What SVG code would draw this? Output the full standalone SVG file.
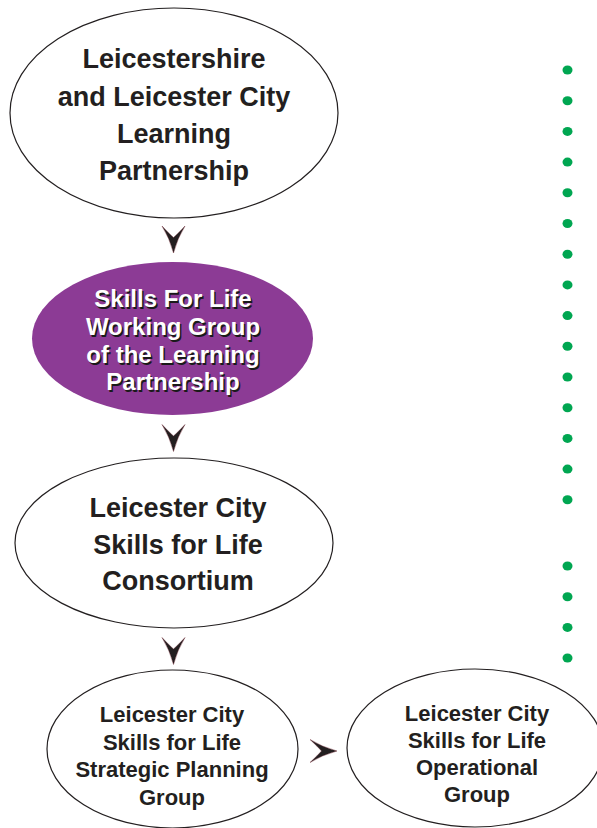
<svg xmlns="http://www.w3.org/2000/svg" width="597" height="828" viewBox="0 0 597 828">
<style>
.node ellipse{fill:#fff;stroke:#231f20;stroke-width:1.2}
#n2 ellipse{fill:#8c3b95;stroke:none}
text{font-family:"Liberation Sans",Arial,sans-serif;font-weight:bold;text-anchor:middle;fill:#231f20}
.t1{font-size:27px}
.t2{font-size:24px;fill:#fff}
.t2s{font-size:24px;fill:#1a1a1a}
.t4{font-size:22px}
.t5{font-size:22px}
.arrow{fill:#231f20;stroke:#6b1f2a;stroke-width:0.4}
.dot{fill:#00a651}
</style>
<defs>
<path id="ad" d="M-11.5,-13 Q-4,-5 0,-1.5 Q4,-5 11.5,-13 Q4,-1 0,14 Q-4,-1 -11.5,-13 Z"/>
</defs>
<g id="n1" class="node">
<ellipse cx="174" cy="113" rx="164" ry="105"/>
<text class="t1" x="174" y="68">Leicestershire</text>
<text class="t1" x="174" y="106">and Leicester City</text>
<text class="t1" x="174" y="143">Learning</text>
<text class="t1" x="174" y="180">Partnership</text>
</g>
<g id="n2" class="node">
<ellipse cx="172.5" cy="338.5" rx="140.5" ry="76.5"/>
<text class="t2s" x="174.5" y="308.5">Skills For Life</text>
<text class="t2s" x="174.5" y="336.5">Working Group</text>
<text class="t2s" x="174.5" y="364.5">of the Learning</text>
<text class="t2s" x="174.5" y="391.5">Partnership</text>
<text class="t2" x="173" y="307">Skills For Life</text>
<text class="t2" x="173" y="335">Working Group</text>
<text class="t2" x="173" y="363">of the Learning</text>
<text class="t2" x="173" y="390">Partnership</text>
</g>
<g id="n3" class="node">
<ellipse cx="174" cy="543" rx="159" ry="85"/>
<text class="t1" x="178" y="517">Leicester City</text>
<text class="t1" x="178" y="554">Skills for Life</text>
<text class="t1" x="178" y="590">Consortium</text>
</g>
<g id="n4" class="node">
<ellipse cx="172.5" cy="749" rx="125.5" ry="79"/>
<text class="t4" x="172" y="722">Leicester City</text>
<text class="t4" x="172" y="750">Skills for Life</text>
<text class="t4" x="172" y="777">Strategic Planning</text>
<text class="t4" x="172" y="805">Group</text>
</g>
<g id="n5" class="node">
<ellipse cx="475" cy="748" rx="128" ry="79"/>
<text class="t5" x="477" y="721">Leicester City</text>
<text class="t5" x="477" y="748">Skills for Life</text>
<text class="t5" x="477" y="775">Operational</text>
<text class="t5" x="477" y="802">Group</text>
</g>
<g id="connectors">
<use href="#ad" class="arrow" transform="translate(173.5,239)"/>
<use href="#ad" class="arrow" transform="translate(173.5,437.5)"/>
<use href="#ad" class="arrow" transform="translate(173.5,650.5)"/>
<use href="#ad" class="arrow" transform="translate(323,751) rotate(-90)"/>
</g>
<g id="dots">
<ellipse class="dot" cx="567.5" cy="70" rx="5" ry="4.5"/>
<ellipse class="dot" cx="567.5" cy="100.7" rx="5" ry="4.5"/>
<ellipse class="dot" cx="567.5" cy="131.4" rx="5" ry="4.5"/>
<ellipse class="dot" cx="567.5" cy="162.1" rx="5" ry="4.5"/>
<ellipse class="dot" cx="567.5" cy="192.8" rx="5" ry="4.5"/>
<ellipse class="dot" cx="567.5" cy="223.5" rx="5" ry="4.5"/>
<ellipse class="dot" cx="567.5" cy="254.2" rx="5" ry="4.5"/>
<ellipse class="dot" cx="567.5" cy="284.9" rx="5" ry="4.5"/>
<ellipse class="dot" cx="567.5" cy="315.6" rx="5" ry="4.5"/>
<ellipse class="dot" cx="567.5" cy="346.3" rx="5" ry="4.5"/>
<ellipse class="dot" cx="567.5" cy="377" rx="5" ry="4.5"/>
<ellipse class="dot" cx="567.5" cy="407.7" rx="5" ry="4.5"/>
<ellipse class="dot" cx="567.5" cy="438.4" rx="5" ry="4.5"/>
<ellipse class="dot" cx="567.5" cy="469.1" rx="5" ry="4.5"/>
<ellipse class="dot" cx="567.5" cy="499.8" rx="5" ry="4.5"/>
<ellipse class="dot" cx="567.5" cy="566" rx="5" ry="4.5"/>
<ellipse class="dot" cx="567.5" cy="596.7" rx="5" ry="4.5"/>
<ellipse class="dot" cx="567.5" cy="627.4" rx="5" ry="4.5"/>
<ellipse class="dot" cx="567.5" cy="658" rx="5" ry="4.5"/>
</g>
</svg>
